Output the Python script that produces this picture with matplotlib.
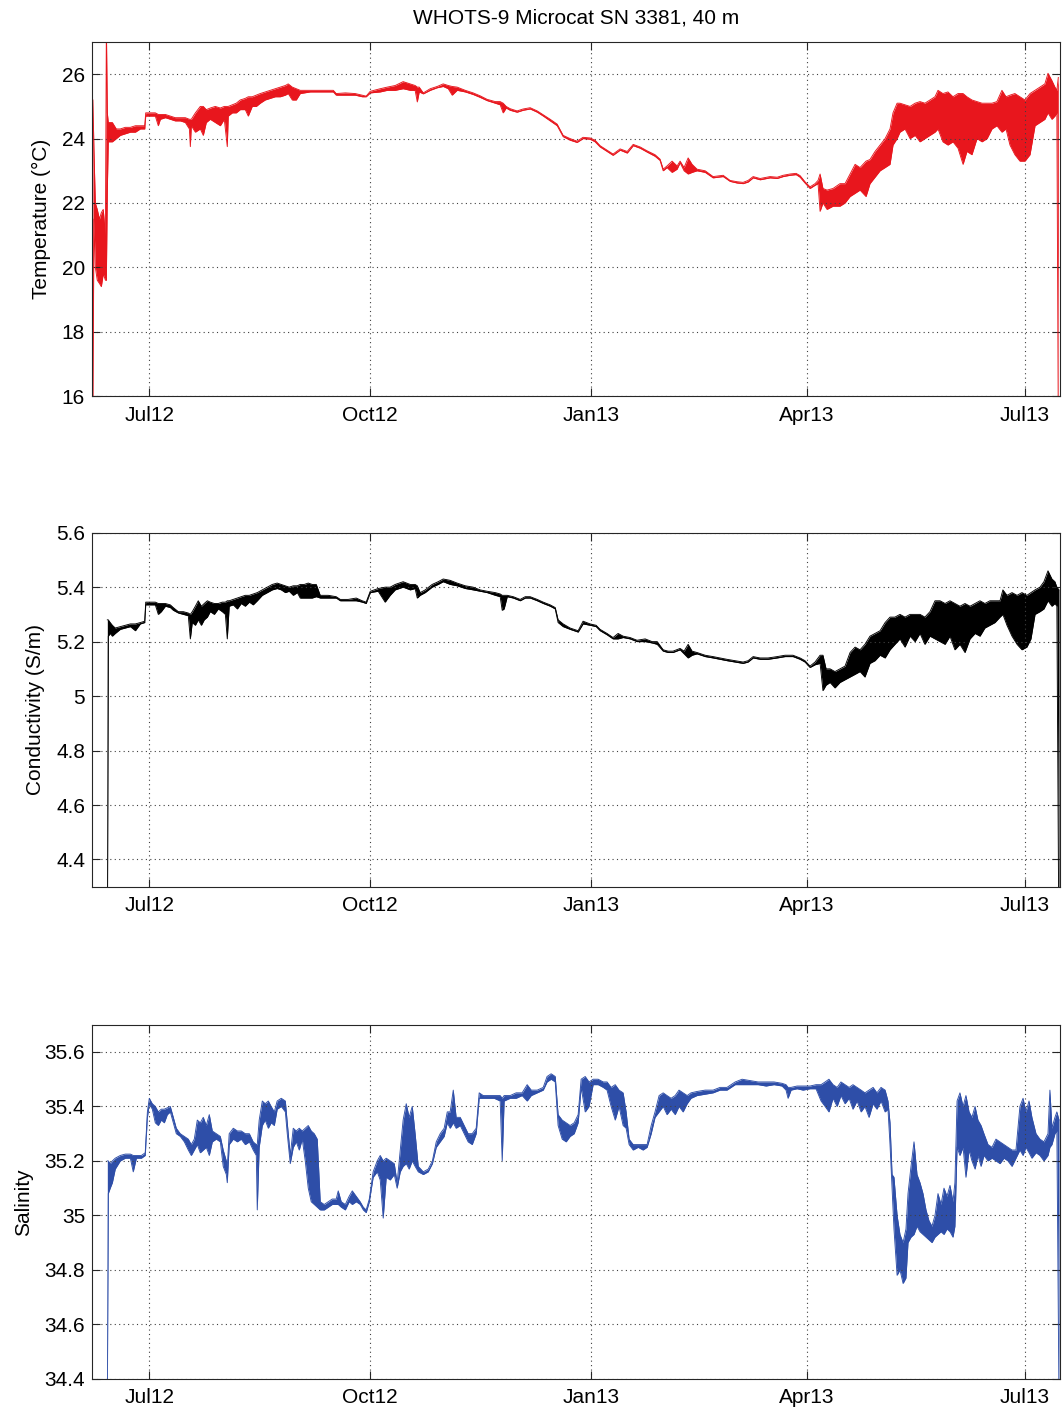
import numpy as np
import matplotlib
matplotlib.use('Agg')
import matplotlib.pyplot as plt
import matplotlib.dates as mdates
from matplotlib.ticker import FixedLocator, FuncFormatter
from datetime import datetime

plt.rcParams['font.family'] = ['Liberation Sans', 'DejaVu Sans']
plt.rcParams['font.size'] = 15

# время в сутках от 2012-07-01, для каждой точки нижняя и верхняя граница разброса
t_temp = [-23.5, -23.1, -22.5, -21.7, -20.8, -20.0, -19.2, -18.3, -17.9, -17.5, -17.1, -15.4, -13.75,
          -12.1, -10.0, -7.9, -5.8, -3.75, -1.9, -1.5, 0.4, 2.5, 3.75, 4.6, 6.7, 8.75, 10.8, 12.9, 15.0,
          16.7, 17.1, 17.5, 19.2, 21.25, 22.5, 23.75, 25.4, 27.5, 29.6, 31.25, 32.5, 32.9, 34.6, 36.25,
          37.9, 40.0, 41.25, 42.9, 44.6, 46.25, 48.3, 50.4, 52.5, 54.6, 56.7, 57.9, 59.6, 61.25, 62.9,
          67.1, 71.25, 75.4, 76.7, 77.9, 81.7, 85.8, 88.75, 90.4, 92.1, 96.25, 99.2, 102.5, 105.8,
          108.75, 110.8, 111.7, 112.5, 114.2, 117.1, 120.0, 122.5, 124.6, 126.25, 128.3, 131.7, 135.0,
          137.9, 140.8, 144.2, 146.25, 147.5, 148.75, 150.4, 153.3, 155.8, 158.75, 161.7, 164.2, 167.1,
          170.0, 172.5, 175.4, 178.3, 180.8, 183.75, 185.8, 187.9, 190.8, 193.3, 196.25, 199.2, 201.7,
          204.6, 207.5, 210.8, 212.9, 214.2, 215.8, 217.9, 220.0, 221.25, 222.9, 224.6, 226.25, 228.3,
          231.7, 235.0, 239.2, 242.1, 245.0, 247.5, 249.6, 251.7, 254.6, 258.75, 261.7, 264.2, 267.1,
          269.6, 271.25, 273.3, 275.4, 277.5, 278.75, 279.6, 280.8, 282.5, 285.0, 287.9, 290.0, 292.1,
          294.2, 296.25, 298.75, 300.4, 302.5, 304.6, 306.7, 308.75, 310.0, 311.7, 312.9, 315.0, 317.1,
          319.2, 321.25, 323.3, 325.4, 327.5, 328.75, 330.8, 332.9, 335.0, 337.1, 339.2, 340.8, 342.9,
          345.0, 347.1, 349.2, 351.25, 353.3, 355.4, 357.1, 358.75, 360.8, 362.9, 365.0, 367.1, 369.2,
          371.25, 373.3, 374.6, 376.25, 377.5, 378.3, 378.9]
temp_lo = [15.0, 21.5, 20.0, 19.6, 19.5, 19.4, 19.8, 19.6, 19.6, 22.4, 23.9, 23.9, 24.0,
           24.1, 24.15, 24.2, 24.2, 24.3, 24.3, 24.7, 24.7, 24.7, 24.4, 24.6, 24.65, 24.6, 24.55, 24.55, 24.5,
           24.3, 23.75, 24.4, 24.2, 24.3, 24.1, 24.5, 24.6, 24.5, 24.4, 24.6, 23.75, 24.7, 24.8, 24.8,
           24.9, 24.9, 24.7, 25.0, 25.0, 25.1, 25.2, 25.25, 25.3, 25.3, 25.35, 25.4, 25.2, 25.2, 25.4,
           25.45, 25.45, 25.45, 25.45, 25.35, 25.35, 25.35, 25.3, 25.3, 25.42, 25.45, 25.5, 25.5, 25.55,
           25.5, 25.5, 25.14, 25.45, 25.39, 25.5, 25.58, 25.62, 25.55, 25.35, 25.5, 25.45, 25.37,
           25.28, 25.18, 25.1, 25.05, 24.8, 24.95, 24.88, 24.82, 24.88, 24.92, 24.82, 24.7, 24.55,
           24.4, 24.06, 23.95, 23.88, 24.0, 23.98, 23.9, 23.74, 23.6, 23.48, 23.64, 23.55, 23.78,
           23.7, 23.58, 23.45, 23.32, 23.0, 23.1, 22.95, 23.05, 23.25, 23.0, 22.9, 22.95, 23.0,
           22.95, 22.78, 22.82, 22.67, 22.62, 22.6, 22.65, 22.78, 22.72, 22.78, 22.76, 22.82, 22.86,
           22.88, 22.8, 22.62, 22.45, 22.55, 22.6, 21.74, 22.0, 21.8, 21.9, 21.9, 22.0, 22.2,
           22.3, 22.4, 22.2, 22.6, 22.8, 23.0, 23.1, 23.2, 23.8, 24.0, 24.2, 24.3, 24.0,
           24.1, 23.9, 24.0, 24.1, 24.2, 24.3, 23.9, 23.8, 23.9, 23.7, 23.2, 23.6, 23.5,
           24.0, 23.9, 24.0, 24.3, 24.4, 24.2, 24.3, 23.8, 23.5, 23.3, 23.3, 23.5, 24.4,
           24.5, 24.6, 24.8, 24.6, 24.7, 24.8, 15.0]
temp_hi = [25.2, 23.7, 22.0, 21.8, 21.5, 21.7, 21.8, 21.0, 27.5, 24.8, 24.5, 24.5, 24.3,
           24.3, 24.35, 24.35, 24.4, 24.4, 24.4, 24.8, 24.8, 24.8, 24.75, 24.75, 24.75, 24.7, 24.65, 24.65, 24.65,
           24.6, 24.6, 24.6, 24.8, 25.0, 25.0, 24.9, 24.95, 25.0, 24.95, 25.0, 25.0, 25.0, 25.05, 25.1,
           25.2, 25.25, 25.3, 25.3, 25.35, 25.4, 25.45, 25.5, 25.55, 25.6, 25.65, 25.7, 25.6, 25.55, 25.5,
           25.5, 25.5, 25.5, 25.5, 25.4, 25.42, 25.4, 25.35, 25.32, 25.47, 25.55, 25.6, 25.65, 25.77,
           25.7, 25.65, 25.6, 25.6, 25.42, 25.55, 25.62, 25.7, 25.65, 25.62, 25.6, 25.5, 25.42,
           25.33, 25.22, 25.15, 25.15, 25.1, 25.0, 24.93, 24.86, 24.92, 24.96, 24.86, 24.74, 24.6,
           24.45, 24.1, 24.0, 23.92, 24.04, 24.02, 23.95, 23.78, 23.64, 23.52, 23.68, 23.6, 23.82,
           23.74, 23.62, 23.5, 23.36, 23.05, 23.15, 23.3, 23.15, 23.3, 23.1, 23.4, 23.2, 23.05,
           23.0, 22.82, 22.86, 22.7, 22.66, 22.64, 22.7, 22.82, 22.76, 22.82, 22.8, 22.86, 22.9,
           22.92, 22.85, 22.66, 22.5, 22.6, 22.7, 22.9, 22.45, 22.4, 22.45, 22.6, 22.6, 22.9,
           23.2, 23.1, 23.3, 23.35, 23.6, 23.8, 24.0, 24.3, 24.8, 25.1, 25.1, 25.05, 25.0,
           25.1, 25.15, 25.1, 25.2, 25.3, 25.5, 25.4, 25.45, 25.3, 25.4, 25.4, 25.3, 25.2,
           25.15, 25.1, 25.1, 25.1, 25.15, 25.5, 25.3, 25.35, 25.4, 25.3, 25.2, 25.4, 25.5,
           25.6, 25.7, 26.03, 25.8, 25.6, 25.5, 25.9]

t_cond = [-17.5, -17.1, -16.3, -15.4, -14.2, -12.1, -10.0, -7.9, -5.8, -3.75, -1.9, -1.5, 0.4, 2.5,
          3.75, 5.0, 6.7, 8.75, 10.0, 12.1, 14.2, 16.25, 17.1, 17.9, 19.2, 20.4, 21.7, 22.9, 24.2,
          25.4, 27.1, 28.75, 30.4, 31.7, 32.5, 33.3, 35.0, 36.7, 38.3, 40.0, 41.7, 43.3, 45.0, 47.1,
          49.2, 51.25, 53.3, 55.0, 56.7, 58.3, 60.0, 61.7, 62.9, 64.6, 66.25, 67.9, 69.6, 71.25, 74.6,
          77.9, 79.6, 82.9, 86.25, 88.75, 90.4, 92.1, 95.4, 98.3, 100.4, 102.5, 105.8, 108.75, 110.8,
          111.7, 112.9, 115.0, 117.9, 120.4, 122.5, 125.4, 128.3, 131.7, 135.0, 137.9, 140.8, 144.2,
          146.25, 147.1, 147.9, 149.2, 151.7, 154.6, 156.7, 158.75, 161.7, 164.2, 167.1, 169.2, 170.4,
          172.5, 175.4, 178.75, 180.8, 183.75, 186.25, 187.9, 190.8, 193.3, 195.4, 197.5, 200.4, 203.3,
          206.7, 209.6, 211.7, 214.2, 216.25, 218.3, 221.25, 222.9, 224.6, 226.25, 228.3, 231.7, 235.0,
          237.9, 240.8, 244.2, 247.5, 249.6, 251.7, 254.6, 257.9, 261.7, 265.0, 268.3, 271.25, 273.3,
          275.4, 277.5, 279.6, 280.8, 282.1, 283.75, 285.8, 287.9, 290.0, 292.1, 294.2, 296.25, 298.3,
          300.4, 302.5, 304.6, 306.7, 308.75, 310.8, 312.9, 315.0, 317.1, 319.2, 321.25, 323.3, 325.4,
          327.5, 329.6, 331.7, 333.75, 335.8, 337.9, 340.0, 342.1, 344.2, 346.25, 348.3, 350.4, 352.5,
          354.6, 355.8, 357.5, 359.6, 361.7, 363.75, 365.8, 367.5, 369.2, 371.25, 372.9, 374.6, 376.25,
          377.5, 378.3, 379.2]
cond_lo = [4.0, 5.22, 5.23, 5.22, 5.23, 5.245, 5.25, 5.255, 5.24, 5.265, 5.27, 5.335, 5.335, 5.335,
           5.30, 5.31, 5.33, 5.325, 5.315, 5.305, 5.30, 5.295, 5.21, 5.27, 5.26, 5.28, 5.26, 5.28, 5.29,
           5.31, 5.30, 5.32, 5.31, 5.30, 5.21, 5.33, 5.335, 5.32, 5.34, 5.33, 5.345, 5.335, 5.35, 5.37,
           5.38, 5.39, 5.395, 5.39, 5.38, 5.385, 5.37, 5.38, 5.36, 5.36, 5.36, 5.36, 5.365, 5.36, 5.36,
           5.36, 5.35, 5.35, 5.35, 5.345, 5.34, 5.38, 5.385, 5.345, 5.37, 5.39, 5.40, 5.39, 5.395,
           5.36, 5.37, 5.38, 5.40, 5.41, 5.42, 5.41, 5.405, 5.395, 5.39, 5.385, 5.38, 5.37,
           5.365, 5.315, 5.32, 5.365, 5.36, 5.35, 5.36, 5.36, 5.35, 5.34, 5.33, 5.32, 5.27,
           5.255, 5.245, 5.235, 5.265, 5.26, 5.255, 5.24, 5.225, 5.21, 5.21, 5.215, 5.21, 5.20,
           5.20, 5.195, 5.19, 5.165, 5.16, 5.16, 5.17, 5.155, 5.14, 5.15, 5.155, 5.145, 5.14,
           5.135, 5.13, 5.125, 5.12, 5.125, 5.14, 5.135, 5.135, 5.14, 5.145, 5.145, 5.135, 5.125,
           5.105, 5.115, 5.12, 5.02, 5.04, 5.05, 5.03, 5.05, 5.06, 5.07, 5.08, 5.09, 5.07,
           5.12, 5.13, 5.15, 5.14, 5.17, 5.19, 5.21, 5.18, 5.22, 5.20, 5.23, 5.19, 5.22,
           5.21, 5.20, 5.19, 5.22, 5.17, 5.19, 5.16, 5.21, 5.23, 5.22, 5.25, 5.26, 5.27,
           5.29, 5.30, 5.26, 5.22, 5.19, 5.17, 5.18, 5.21, 5.30, 5.31, 5.32, 5.35, 5.33,
           5.34, 5.33, 4.0]
cond_hi = [5.28, 5.28, 5.27, 5.26, 5.25, 5.255, 5.26, 5.265, 5.265, 5.27, 5.275, 5.345, 5.345, 5.345,
           5.34, 5.34, 5.34, 5.335, 5.325, 5.31, 5.31, 5.305, 5.30, 5.31, 5.33, 5.35, 5.33, 5.34, 5.35,
           5.345, 5.34, 5.34, 5.345, 5.345, 5.35, 5.35, 5.355, 5.36, 5.365, 5.37, 5.37, 5.375, 5.38, 5.39,
           5.40, 5.41, 5.415, 5.41, 5.405, 5.40, 5.405, 5.405, 5.41, 5.41, 5.415, 5.41, 5.41, 5.37, 5.37,
           5.365, 5.355, 5.355, 5.36, 5.35, 5.345, 5.385, 5.395, 5.40, 5.40, 5.41, 5.42, 5.41, 5.41,
           5.405, 5.38, 5.39, 5.41, 5.42, 5.43, 5.425, 5.415, 5.405, 5.40, 5.39, 5.385, 5.38,
           5.375, 5.37, 5.37, 5.37, 5.365, 5.355, 5.365, 5.365, 5.355, 5.345, 5.335, 5.325, 5.28,
           5.265, 5.25, 5.24, 5.275, 5.265, 5.26, 5.245, 5.23, 5.215, 5.23, 5.22, 5.215, 5.205,
           5.21, 5.20, 5.20, 5.17, 5.165, 5.165, 5.175, 5.165, 5.19, 5.165, 5.16, 5.15, 5.145,
           5.14, 5.135, 5.13, 5.125, 5.13, 5.145, 5.14, 5.14, 5.145, 5.15, 5.15, 5.14, 5.13,
           5.11, 5.125, 5.15, 5.15, 5.10, 5.10, 5.09, 5.10, 5.11, 5.16, 5.18, 5.17, 5.19,
           5.22, 5.23, 5.24, 5.27, 5.29, 5.29, 5.30, 5.29, 5.30, 5.30, 5.30, 5.29, 5.31,
           5.35, 5.35, 5.34, 5.35, 5.34, 5.33, 5.34, 5.33, 5.34, 5.35, 5.34, 5.35, 5.35,
           5.35, 5.39, 5.37, 5.38, 5.37, 5.38, 5.37, 5.38, 5.39, 5.40, 5.42, 5.46, 5.43,
           5.42, 5.40, 5.39]

t_sal = [-17.5, -17.1, -16.3, -15.4, -14.2, -12.1, -10.0, -7.9, -6.7, -5.4, -3.3, -1.7, -0.8, 0.0,
         1.25, 2.5, 3.75, 5.0, 6.25, 7.5, 8.75, 10.0, 11.25, 12.9, 14.6, 16.25, 17.5, 18.75, 20.0,
         21.25, 22.5, 23.75, 25.0, 26.25, 27.9, 29.6, 30.8, 32.1, 32.5, 33.3, 35.0, 36.7, 38.3, 40.0,
         41.7, 43.3, 44.6, 45.0, 45.8, 47.1, 48.3, 49.6, 50.8, 52.1, 53.3, 55.0, 56.7, 57.5, 58.75,
         60.0, 61.25, 62.5, 63.75, 65.0, 66.25, 67.5, 68.75, 70.0, 71.25, 72.9, 74.6, 76.25, 77.9,
         78.75, 80.0, 81.7, 83.3, 84.6, 86.25, 87.9, 89.2, 90.4, 91.7, 93.3, 95.0, 96.25, 97.5, 98.75,
         100.4, 102.1, 103.3, 104.6, 105.8, 107.1, 108.3, 109.6, 110.8, 112.1, 114.2, 116.25, 118.0,
         119.6, 121.25, 122.9, 124.2, 125.4, 126.7, 127.9, 129.6, 131.25, 132.9, 134.6, 136.25, 137.5,
         139.2, 141.25, 143.75, 146.25, 147.1, 147.9, 150.4, 152.9, 155.4, 157.5, 159.2, 161.7, 164.2,
         165.8, 167.5, 169.2, 170.4, 172.1, 173.75, 175.4, 177.1, 178.75, 180.0, 181.7, 183.3, 185.0,
         187.1, 189.2, 190.8, 192.5, 194.2, 195.8, 197.5, 198.75, 200.0, 201.7, 203.75, 205.8, 207.5,
         209.2, 210.8, 212.5, 214.2, 215.8, 217.5, 219.2, 220.8, 222.5, 224.2, 225.8, 228.3, 231.7,
         235.0, 237.9, 240.8, 244.2, 247.1, 250.4, 253.75, 257.1, 260.4, 263.75, 265.4, 266.25, 267.5,
         270.0, 272.5, 275.4, 277.9, 280.0, 281.7, 283.3, 285.0, 286.7, 288.3, 290.0, 291.7, 293.3,
         295.0, 296.7, 298.3, 300.0, 301.7, 303.3, 305.0, 306.7, 307.9, 308.75, 309.6, 310.4, 311.7,
         312.9, 314.2, 315.4, 316.25, 317.5, 318.75, 320.0, 321.25, 322.5, 323.75, 325.0, 326.25, 327.5,
         328.75, 330.0, 331.25, 332.5, 333.75, 335.0, 335.8, 336.7, 337.9, 339.2, 340.4, 341.7, 342.9,
         344.2, 345.4, 346.7, 347.9, 349.6, 351.25, 352.9, 354.6, 356.25, 357.9, 359.6, 361.25, 362.9,
         364.2, 365.4, 366.7, 367.9, 369.6, 371.25, 372.9, 374.6, 375.4, 376.25, 377.5, 378.3, 379.2]
sal_lo = [34.3, 35.08, 35.10, 35.12, 35.17, 35.20, 35.21, 35.21, 35.16, 35.21, 35.21, 35.22, 35.36, 35.41,
          35.39, 35.34, 35.33, 35.35, 35.34, 35.37, 35.38, 35.34, 35.30, 35.29, 35.27, 35.24, 35.22, 35.24, 35.26,
          35.23, 35.24, 35.25, 35.22, 35.27, 35.28, 35.27, 35.18, 35.15, 35.12, 35.26, 35.28, 35.27, 35.28, 35.26,
          35.27, 35.24, 35.22, 35.02, 35.25, 35.33, 35.35, 35.32, 35.34, 35.33, 35.39, 35.40, 35.38, 35.30, 35.19,
          35.25, 35.27, 35.24, 35.28, 35.20, 35.10, 35.05, 35.04, 35.03, 35.02, 35.02, 35.03, 35.04, 35.04,
          35.04, 35.03, 35.02, 35.05, 35.04, 35.05, 35.04, 35.02, 35.01, 35.05, 35.14, 35.16, 35.13, 34.99, 35.14,
          35.13, 35.15, 35.10, 35.16, 35.18, 35.19, 35.17, 35.20, 35.18, 35.16, 35.15, 35.16, 35.19,
          35.25, 35.27, 35.29, 35.34, 35.32, 35.34, 35.32, 35.33, 35.30, 35.27, 35.26, 35.30, 35.43,
          35.43, 35.43, 35.43, 35.42, 35.20, 35.42, 35.43, 35.43, 35.44, 35.42, 35.44, 35.45, 35.46,
          35.49, 35.50, 35.49, 35.33, 35.28, 35.27, 35.29, 35.30, 35.34, 35.47, 35.38, 35.40, 35.48,
          35.48, 35.47, 35.46, 35.40, 35.35, 35.40, 35.33, 35.32, 35.26, 35.24, 35.25, 35.24, 35.25,
          35.30, 35.36, 35.38, 35.40, 35.37, 35.39, 35.37, 35.40, 35.38, 35.41, 35.43, 35.44, 35.445,
          35.45, 35.46, 35.46, 35.48, 35.48, 35.48, 35.48, 35.475, 35.48, 35.475, 35.46, 35.43, 35.46,
          35.465, 35.46, 35.465, 35.465, 35.42, 35.40, 35.38, 35.43, 35.40, 35.44, 35.41, 35.43, 35.39,
          35.42, 35.38, 35.40, 35.36, 35.41, 35.39, 35.42, 35.38, 35.39, 35.26, 35.10, 34.95, 34.78,
          34.80, 34.75, 34.77, 34.90, 34.92, 34.93, 34.96, 34.94, 34.93, 34.92, 34.91, 34.90, 34.92,
          34.93, 34.94, 34.93, 34.95, 34.94, 34.92, 34.96, 35.25, 35.22, 35.25, 35.14, 35.24, 35.20,
          35.17, 35.22, 35.18, 35.22, 35.20, 35.21, 35.20, 35.19, 35.21, 35.20, 35.18, 35.21, 35.24,
          35.22, 35.25, 35.23, 35.21, 35.23, 35.22, 35.20, 35.22, 35.25, 35.26, 35.30, 35.31, 34.3]
sal_hi = [35.20, 35.20, 35.19, 35.20, 35.21, 35.22, 35.225, 35.225, 35.22, 35.22, 35.22, 35.23, 35.38, 35.43,
          35.41, 35.40, 35.38, 35.39, 35.39, 35.395, 35.40, 35.36, 35.32, 35.30, 35.29, 35.28, 35.26, 35.28, 35.35,
          35.34, 35.36, 35.33, 35.37, 35.31, 35.30, 35.29, 35.24, 35.20, 35.18, 35.30, 35.32, 35.31, 35.31, 35.30,
          35.30, 35.27, 35.26, 35.26, 35.35, 35.42, 35.41, 35.42, 35.40, 35.38, 35.42, 35.43, 35.42, 35.34, 35.22,
          35.32, 35.31, 35.32, 35.31, 35.32, 35.33, 35.31, 35.30, 35.28, 35.05, 35.04, 35.05, 35.06, 35.06,
          35.09, 35.05, 35.04, 35.07, 35.09, 35.07, 35.05, 35.03, 35.02, 35.06, 35.16, 35.20, 35.22, 35.20, 35.21,
          35.20, 35.19, 35.12, 35.24, 35.35, 35.41, 35.36, 35.40, 35.30, 35.18, 35.16, 35.17, 35.20,
          35.27, 35.30, 35.32, 35.38, 35.38, 35.46, 35.36, 35.36, 35.33, 35.30, 35.30, 35.32, 35.45,
          35.44, 35.44, 35.44, 35.44, 35.43, 35.44, 35.44, 35.45, 35.45, 35.48, 35.46, 35.46, 35.47,
          35.51, 35.52, 35.51, 35.37, 35.35, 35.34, 35.33, 35.34, 35.37, 35.50, 35.51, 35.49, 35.50,
          35.50, 35.49, 35.49, 35.47, 35.48, 35.46, 35.45, 35.38, 35.28, 35.26, 35.26, 35.26, 35.26,
          35.33, 35.38, 35.44, 35.45, 35.44, 35.43, 35.44, 35.46, 35.45, 35.44, 35.45, 35.455, 35.46,
          35.46, 35.47, 35.47, 35.49, 35.50, 35.495, 35.49, 35.49, 35.49, 35.485, 35.48, 35.47, 35.47,
          35.475, 35.475, 35.475, 35.48, 35.48, 35.49, 35.50, 35.48, 35.47, 35.49, 35.48, 35.47, 35.48,
          35.47, 35.46, 35.45, 35.46, 35.47, 35.45, 35.47, 35.46, 35.42, 35.34, 35.15, 35.14, 35.00,
          34.93, 34.90, 34.95, 35.08, 35.18, 35.27, 35.15, 35.12, 35.08, 35.02, 34.98, 34.96, 35.00,
          35.08, 35.04, 35.10, 35.07, 35.11, 35.05, 35.12, 35.42, 35.45, 35.40, 35.44, 35.38, 35.36,
          35.40, 35.35, 35.33, 35.30, 35.26, 35.25, 35.28, 35.27, 35.26, 35.25, 35.24, 35.24, 35.40,
          35.43, 35.38, 35.42, 35.36, 35.30, 35.28, 35.27, 35.30, 35.46, 35.32, 35.36, 35.38, 35.35]

temp_ticks = [16, 18, 20, 22, 24, 26]
cond_ticks = [4.4, 4.6, 4.8, 5.0, 5.2, 5.4, 5.6]
sal_ticks = [34.4, 34.6, 34.8, 35.0, 35.2, 35.4, 35.6]

t0 = mdates.date2num(datetime(2012, 7, 1))

fig = plt.figure(figsize=(10.62, 14.16), dpi=100)
left, width, height = 0.0866, 0.9115, 0.25
bottoms = [0.7203, 0.3738, 0.0263]

panels = [
    (t_temp, temp_lo, temp_hi, '#e8161d', (16, 27), temp_ticks, 'Temperature (\u00b0C)'),
    (t_cond, cond_lo, cond_hi, 'black', (4.3, 5.6), cond_ticks, 'Conductivity (S/m)'),
    (t_sal, sal_lo, sal_hi, '#2e4ea8', (34.4, 35.7), sal_ticks, 'Salinity'),
]

for k, (t, lo, hi, c, ylim, ticks, label) in enumerate(panels):
    ax = fig.add_axes([left, bottoms[k], width, height])
    x = np.asarray(t, float) + t0
    # разброс значений закрашиваем полосой, границы обводим тонкой линией того же цвета
    ax.fill_between(x, lo, hi, color=c, lw=0)
    ax.plot(x, lo, color=c, lw=0.65)
    ax.plot(x, hi, color=c, lw=0.65)
    ax.set_xlim(t0 - 23.9, t0 + 379.6)
    ax.set_ylim(*ylim)
    ax.yaxis.set_major_locator(FixedLocator(ticks))
    ax.yaxis.set_major_formatter(FuncFormatter(lambda v, p: '%g' % round(v, 2)))
    ax.xaxis.set_major_locator(mdates.MonthLocator(bymonth=[1, 4, 7, 10]))
    ax.xaxis.set_major_formatter(mdates.DateFormatter('%b%y'))
    ax.tick_params(direction='in', length=6, width=0.8, top=True, right=True,
                   labelsize=15, pad=5, color='0.15')
    ax.tick_params(axis='x', pad=7)
    ax.grid(True, color='0.25', linestyle=(0, (1, 3)), linewidth=0.8)
    for s in ax.spines.values():
        s.set_color('0.15')
        s.set_linewidth(0.8)
    ax.set_ylabel(label, fontsize=15, labelpad=8)
    if k == 0:
        ax.set_title('WHOTS-9 Microcat SN 3381, 40 m', fontsize=15, pad=13)

fig.savefig('out.png', dpi=100)
